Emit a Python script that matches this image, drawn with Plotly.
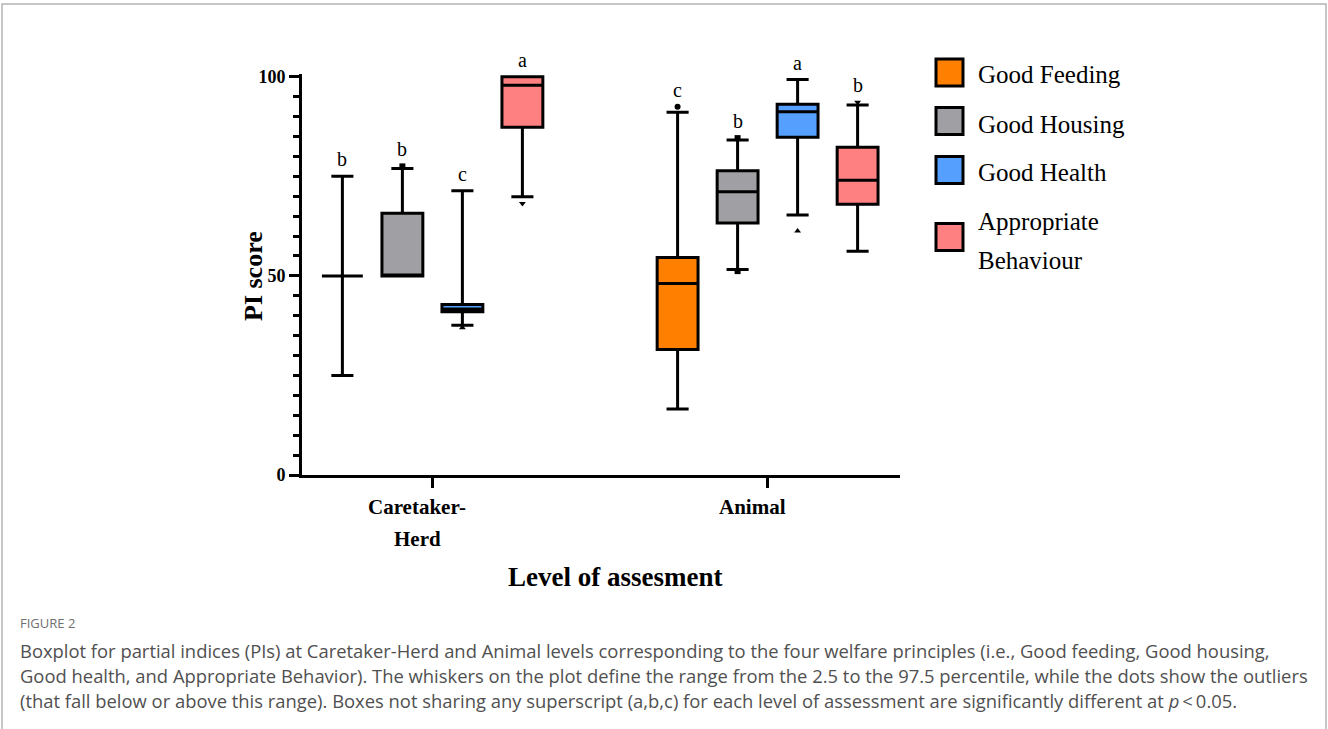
import plotly.graph_objects as go

# ---------------- data ----------------
levels = ["Caretaker-\nHerd", "Animal"]
principles = ["Good Feeding", "Good Housing", "Good Health", "Appropriate\nBehaviour"]
colors = ["#FF8000", "#A0A0A4", "#55A0FF", "#FF8080"]
symbols = ["circle", "square", "triangle-up", "triangle-down"]

gf_q1 = [50, 31.5]
gf_med = [50, 48.1]
gf_q3 = [50, 54.6]
gf_lo = [25, 16.6]
gf_hi = [75, 91.1]
gf_out = [[], [92.5]]
gf_letters = ["b", "c"]

gh_q1 = [50, 63.3]
gh_med = [50, 71.1]
gh_q3 = [65.7, 76.4]
gh_lo = [50, 51.6]
gh_hi = [77, 84.1]
gh_out = [[77.5], [84.6, 51.2]]
gh_letters = ["b", "b"]

he_q1 = [41.0, 84.8]
he_med = [41.7, 91.2]
he_q3 = [42.8, 93.1]
he_lo = [37.6, 65.3]
he_hi = [71.4, 99.3]
he_out = [[37.0], [61.3]]
he_letters = ["c", "a"]

ab_q1 = [87.3, 68.0]
ab_med = [97.9, 74.0]
ab_q3 = [100, 82.3]
ab_lo = [69.9, 56.2]
ab_hi = [100, 92.9]
ab_out = [[68.2], [93.6]]
ab_letters = ["a", "b"]

series = [
    (gf_q1, gf_med, gf_q3, gf_lo, gf_hi, gf_out, gf_letters),
    (gh_q1, gh_med, gh_q3, gh_lo, gh_hi, gh_out, gh_letters),
    (he_q1, he_med, he_q3, he_lo, he_hi, he_out, he_letters),
    (ab_q1, ab_med, ab_q3, ab_lo, ab_hi, ab_out, ab_letters),
]

y_ticks = [0, 50, 100]
x_title = "Level of assesment"
y_title = "PI score"
fig_label = "FIGURE 2"
caption_lines = [
    "Boxplot for partial indices (PIs) at Caretaker-Herd and Animal levels corresponding to the four welfare principles (i.e., Good feeding, Good housing,",
    "Good health, and Appropriate Behavior). The whiskers on the plot define the range from the 2.5 to the 97.5 percentile, while the dots show the outliers",
    "(that fall below or above this range). Boxes not sharing any superscript (a,b,c) for each level of assessment are significantly different at <i>p</i>\u2009<\u20090.05.",
]

# ---------------- layout constants ----------------
W, H = 1328, 729
L, R, T, B = 302, 428, 74, 254
PW, PH = W - L - R, H - T - B
SERIF = "Liberation Serif, Times New Roman, serif"
SANS = "Open Sans, Noto Sans, sans-serif"
slot = 0.179
box_w = 0.122


def px(x):
    return (x - L) / PW


def py(y):
    return (H - B - y) / PH


fig = go.Figure()
annotations = []

for k, (q1, med, q3, lo, hi, outs, letters) in enumerate(series):
    off = (k - 1.5) * slot
    xs = [g + off for g in range(len(levels))]
    fig.add_trace(go.Box(
        x=xs, q1=q1, median=med, q3=q3, lowerfence=lo, upperfence=hi,
        width=box_w, whiskerwidth=0.54,
        fillcolor=colors[k], line=dict(color="black", width=3),
        boxpoints=False, showlegend=False, name=principles[k].replace("\n", " "),
    ))
    ox, oy = [], []
    for g, vals in enumerate(outs):
        for v in vals:
            ox.append(xs[g])
            oy.append(v)
    if ox:
        fig.add_trace(go.Scatter(
            x=ox, y=oy, mode="markers", showlegend=False,
            marker=dict(symbol=symbols[k], size=6, color="black"),
            cliponaxis=False,
        ))
    for g in range(len(levels)):
        top = max([hi[g]] + outs[g])
        annotations.append(dict(
            x=xs[g], y=top, xref="x", yref="y", text=letters[g], showarrow=False,
            yshift=17, font=dict(family=SERIF, size=20, color="black"),
        ))

# category labels
for g, lab in enumerate(levels):
    for i, line in enumerate(lab.split("\n")):
        annotations.append(dict(
            x=g, xref="x", y=py(507 + 32 * i), yref="paper", text=line,
            showarrow=False, xshift=-15, yanchor="middle",
            font=dict(family=SERIF, size=21, color="black", weight="bold"),
        ))

# axis titles
annotations.append(dict(x=px(615), y=py(577), xref="paper", yref="paper",
                        text=x_title, showarrow=False, yanchor="middle",
                        font=dict(family=SERIF, size=27, color="black", weight="bold")))
annotations.append(dict(x=px(253), y=py(276), xref="paper", yref="paper",
                        text=y_title, showarrow=False, textangle=-90,
                        xanchor="center", yanchor="middle",
                        font=dict(family=SERIF, size=26, color="black", weight="bold")))

# legend
shapes = []
legend_rows = [(72.5, [75]), (121, [124]), (170, [172.5]), (237, [221.5, 260])]
for k, (cy, tys) in enumerate(legend_rows):
    shapes.append(dict(type="rect", xref="paper", yref="paper",
                       x0=px(936), x1=px(963), y0=py(cy + 13.5), y1=py(cy - 13.5),
                       fillcolor=colors[k], line=dict(color="black", width=3)))
    for line, ty in zip(principles[k].split("\n"), tys):
        annotations.append(dict(x=px(976), y=py(ty), xref="paper", yref="paper",
                                text=line, showarrow=False, xanchor="left", yanchor="middle",
                                font=dict(family=SERIF, size=25, color="black")))

# caption
annotations.append(dict(x=px(18), y=py(623), xref="paper", yref="paper", text=fig_label,
                        showarrow=False, xanchor="left", yanchor="middle",
                        font=dict(family=SANS, size=13, color="#707070")))
for i, line in enumerate(caption_lines):
    annotations.append(dict(x=px(18), y=py(650 + 25 * i), xref="paper", yref="paper",
                            text=line, showarrow=False, xanchor="left", yanchor="middle",
                            font=dict(family=SANS, size=18.4, color="#505050")))

# frame
shapes.append(dict(type="rect", xref="paper", yref="paper",
                   x0=px(2), x1=px(1326), y0=py(745), y1=py(4),
                   line=dict(color="#b4b4b4", width=1.5), fillcolor="rgba(0,0,0,0)"))

fig.update_layout(
    width=W, height=H, margin=dict(l=L, r=R, t=T, b=B, autoexpand=False),
    paper_bgcolor="white", plot_bgcolor="white",
    annotations=annotations, shapes=shapes,
    xaxis=dict(range=[-0.389, 1.395], tickvals=[0, 1], ticktext=["", ""],
               ticks="outside", ticklen=10, tickwidth=3, tickcolor="black",
               showline=True, linewidth=3, linecolor="black", showgrid=False,
               zeroline=False, fixedrange=True),
    yaxis=dict(range=[0, 100.7], tickvals=y_ticks,
               ticks="outside", ticklen=10, tickwidth=3, tickcolor="black",
               minor=dict(dtick=5, ticks="outside", ticklen=6, tickwidth=3, tickcolor="black", showgrid=False),
               showline=True, linewidth=3, linecolor="black", showgrid=False,
               zeroline=False, tickfont=dict(family=SERIF, size=18, color="black", weight="bold"),
               fixedrange=True),
    showlegend=False,
)

fig.write_html("out.html", config={"displayModeBar": False},
               post_script="document.body.style.margin='0';document.body.style.overflow='hidden';")
